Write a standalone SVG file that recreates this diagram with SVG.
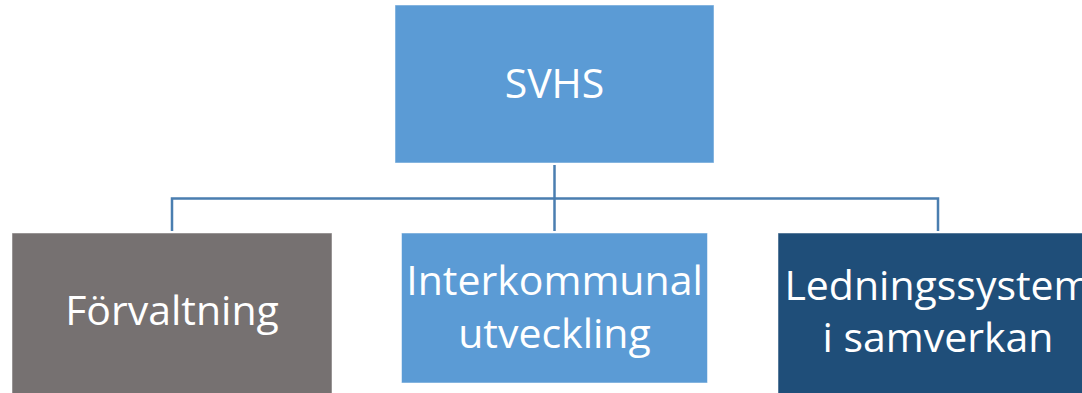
<svg xmlns="http://www.w3.org/2000/svg" width="1082" height="393" viewBox="0 0 1082 393">
<style>
.box{stroke:#ffffff;stroke-opacity:0.5;stroke-width:1}
.lbl{font-family:"Open Sans","Liberation Sans",sans-serif;font-size:41px;fill:#ffffff;text-anchor:middle}
.con{fill:none;stroke:#4A7EB0;stroke-width:2.5}
</style>
<rect width="1082" height="393" fill="#ffffff"/>
<g id="connectors">
<path class="con" d="M554.5 165 V231"/>
<path class="con" d="M172 231 V198.5 H938 V231"/>
</g>
<g id="svhs">
<rect class="box" x="395" y="5" width="319" height="158" fill="#5B9BD5"/>
<text class="lbl" x="554.5" y="98">SVHS</text>
</g>
<g id="forvaltning">
<rect class="box" x="12" y="233" width="320" height="170" fill="#767171"/>
<text class="lbl" x="172" y="325">Förvaltning</text>
</g>
<g id="interkommunal">
<rect class="box" x="401.5" y="233" width="306" height="150" fill="#5B9BD5"/>
<text class="lbl" x="554.5" y="295">Interkommunal</text>
<text class="lbl" x="554.5" y="348">utveckling</text>
</g>
<g id="ledningssystem">
<rect class="box" x="778" y="233" width="320" height="170" fill="#1F4E79"/>
<text class="lbl" x="938" y="300">Ledningssystem</text>
<text class="lbl" x="938" y="352">i samverkan</text>
</g>
</svg>
